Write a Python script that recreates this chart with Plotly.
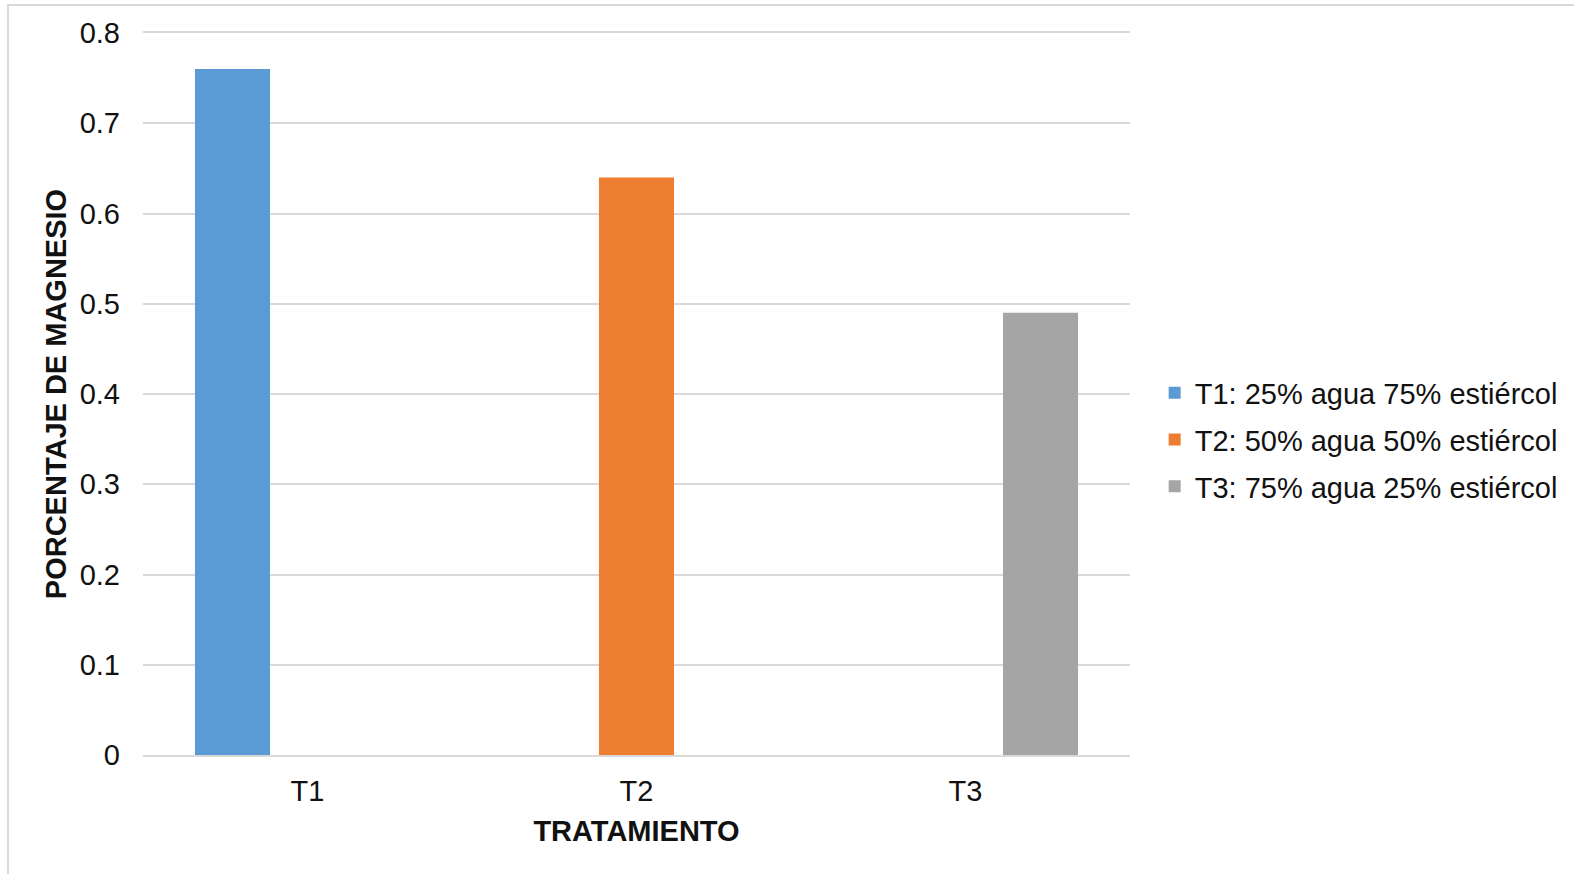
import plotly.graph_objects as go

categories = ["T1", "T2", "T3"]
series_names = [
    "T1: 25% agua 75% estiércol",
    "T2: 50% agua 50% estiércol",
    "T3: 75% agua 25% estiércol",
]
values = [0.76, 0.64, 0.49]
colors = ["#5B9BD5", "#ED7D31", "#A5A5A5"]

FONT = "Liberation Sans, Arial, sans-serif"
TXT = "#111111"
FS = 29

fig = go.Figure()
for i, name in enumerate(series_names):
    ys = [values[i] if j == i else None for j in range(len(categories))]
    fig.add_trace(go.Bar(
        x=categories, y=ys, name=name, legendgroup=name,
        marker=dict(color=colors[i], line=dict(width=0)),
    ))

L, R, T, B = 143, 444, 33, 119
W, H = 1574, 874
pw, ph = W - L - R, H - T - B

fig.update_layout(
    width=W, height=H,
    margin=dict(l=L, r=R, t=T, b=B, autoexpand=False),
    paper_bgcolor="white", plot_bgcolor="white",
    barmode="group", bargap=0.316, bargroupgap=0,
    font=dict(family=FONT, size=FS, color=TXT),
    legend=dict(
        x=1.025, xanchor="left", y=(755 - 440) / ph, yanchor="middle",
        font=dict(size=FS, color=TXT), tracegroupgap=6,
        itemwidth=30, bgcolor="rgba(0,0,0,0)",
    ),
    xaxis=dict(
        showgrid=False, showline=True, mirror=True, linecolor="#d9d9d9", linewidth=2,
        ticks="", tickfont=dict(size=FS, color=TXT), ticklabelstandoff=9,
        title=dict(text="<b>TRATAMIENTO</b>", font=dict(size=FS, color=TXT), standoff=15),
    ),
    yaxis=dict(
        range=[0, 0.8], dtick=0.1, tick0=0,
        showgrid=True, gridcolor="#d9d9d9", gridwidth=2,
        zeroline=False, showline=False, ticks="",
        tickfont=dict(size=FS, color=TXT), ticklabelstandoff=22,
        title=dict(text="<b>PORCENTAJE DE MAGNESIO</b>", font=dict(size=FS, color=TXT), standoff=4),
    ),
    shapes=[dict(
        type="rect", xref="paper", yref="paper",
        x0=(8 - L) / pw, x1=(W + 20 - L) / pw,
        y0=-(H + 20 - (T + ph)) / ph, y1=(T + ph - 5) / ph,
        line=dict(color="#d9d9d9", width=2), fillcolor="rgba(0,0,0,0)", layer="below",
    )],
)

fig.write_html("out.html")
